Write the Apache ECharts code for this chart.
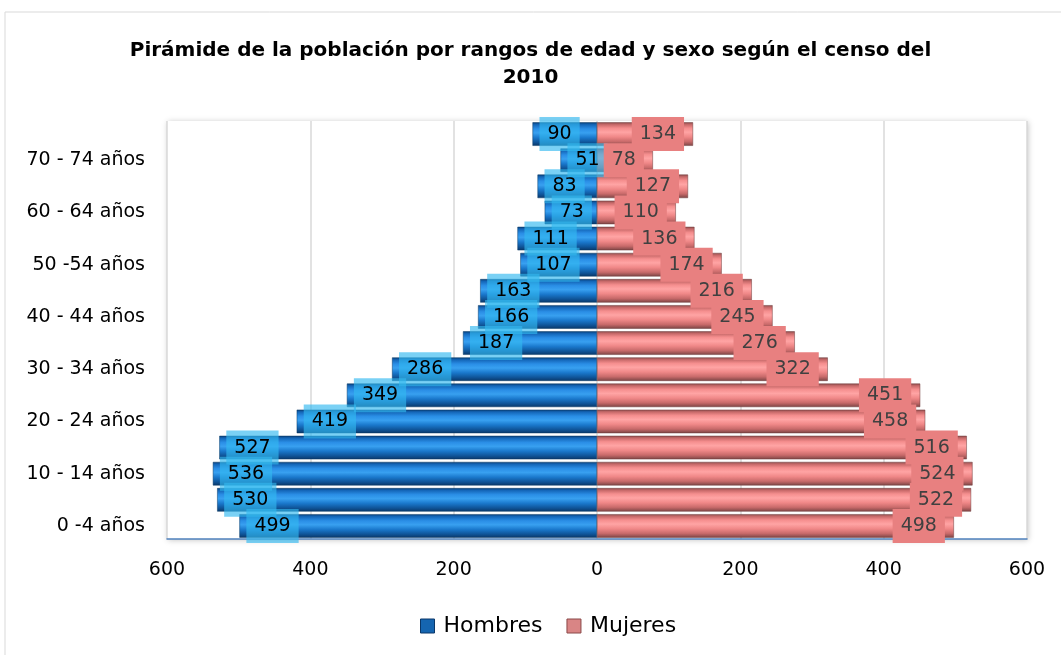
<!DOCTYPE html>
<html>
<head>
<meta charset="utf-8">
<script src="https://cdn.jsdelivr.net/npm/echarts@6/dist/echarts.min.js"></script>
<style>html,body{margin:0;padding:0;background:#fff}#c{width:1061px;height:655px}</style>
</head>
<body>
<div id="c"></div>
<script>
const categories = ["0 -4 años","5 - 9 años","10 - 14 años","15 - 19 años","20 - 24 años","25 - 29 años","30 - 34 años","35 - 39 años","40 - 44 años","45 - 49 años","50 -54 años","55 - 59 años","60 - 64 años","65 - 69 años","70 - 74 años","75 y más años"];
const hombres = [499,530,536,527,419,349,286,187,166,163,107,111,73,83,51,90];
const mujeres = [498,522,524,516,458,451,322,276,245,216,174,136,110,127,78,134];
const xTicks = [-600,-400,-200,0,200,400,600];

const chart = echarts.init(document.getElementById('c'));
const blueGrad = new echarts.graphic.LinearGradient(0,0,0,1,[
  {offset:0,color:'#0A3F78'},{offset:0.1,color:'#1466B8'},{offset:0.28,color:'#2A8EE6'},
  {offset:0.45,color:'#38A0F0'},{offset:0.65,color:'#1A78CC'},{offset:0.85,color:'#0F5498'},{offset:1,color:'#0A3768'}]);
const pinkGrad = new echarts.graphic.LinearGradient(0,0,0,1,[
  {offset:0,color:'#8E4E4E'},{offset:0.1,color:'#C86A6A'},{offset:0.25,color:'#F58E8E'},
  {offset:0.42,color:'#FFA4A4'},{offset:0.62,color:'#F08888'},{offset:0.82,color:'#C86A6A'},{offset:1,color:'#7A4444'}]);
const font = '"DejaVu Sans", sans-serif';

chart.setOption({
  backgroundColor:'#fff',
  graphic:[{type:'rect',shape:{x:5,y:12,width:1080,height:680},style:{fill:'none',stroke:'#D9D9D9',lineWidth:1},silent:true,z:-10}],
  title:{
    text:'Pirámide de la población por rangos de edad y sexo según el censo del\n2010',
    left:'center', top:32,
    textStyle:{fontFamily:'"DejaVu Sans", sans-serif',fontWeight:'bold',fontSize:20,lineHeight:27,color:'#000'}
  },
  legend:{
    bottom:13, left:415, itemWidth:14, itemHeight:14, itemGap:24, icon:'rect',
    textStyle:{fontFamily:font,fontSize:22,color:'#000',padding:[0,0,0,4]},
    data:[{name:'Hombres',itemStyle:{color:'#1565B0',borderColor:'#0A3768',borderWidth:1}},{name:'Mujeres',itemStyle:{color:'#D98585',borderColor:'#8A4848',borderWidth:1}}]
  },
  grid:{left:167,right:34,top:121,bottom:116,show:true,borderWidth:0,backgroundColor:'#fff',shadowBlur:6,shadowColor:'rgba(0,0,0,0.25)',shadowOffsetX:1,shadowOffsetY:1},
  xAxis:{
    type:'value', min:xTicks[0], max:xTicks[xTicks.length-1], interval:200,
    axisLine:{show:true,onZero:false,lineStyle:{color:'#4F81BD',width:1.5}},
    axisTick:{show:false},
    splitLine:{show:true,lineStyle:{color:'#D9D9D9',width:1.5}},
    axisLabel:{margin:22,fontFamily:font,fontSize:19,color:'#000',formatter:v=>Math.abs(v)}
  },
  yAxis:{
    type:'category', data:categories,
    axisLine:{show:false,onZero:false}, axisTick:{show:false},
    axisLabel:{interval:1,margin:22,fontFamily:font,fontSize:19,color:'#000'}
  },
  series:[
    {
      name:'Hombres', type:'bar', stack:'t', barCategoryGap:'10%',
      data:hombres.map(v=>-v),
      itemStyle:{color:blueGrad,borderColor:'#083A66',borderWidth:0.5},
      label:{show:true,position:'insideLeft',distance:7,formatter:p=>Math.abs(p.value),
        fontFamily:font,fontSize:19,color:'#000',backgroundColor:'rgba(50,185,240,0.65)',padding:[8,8,7,8]}
    },
    {
      name:'Mujeres', type:'bar', stack:'t', barCategoryGap:'10%',
      data:mujeres,
      itemStyle:{color:pinkGrad,borderColor:'#6E3A3A',borderWidth:0.5},
      label:{show:true,position:'insideRight',distance:9,
        fontFamily:font,fontSize:19,color:'#404040',backgroundColor:'#E88080',padding:[8,8,7,8]}
    }
  ]
});
</script>
</body>
</html>
